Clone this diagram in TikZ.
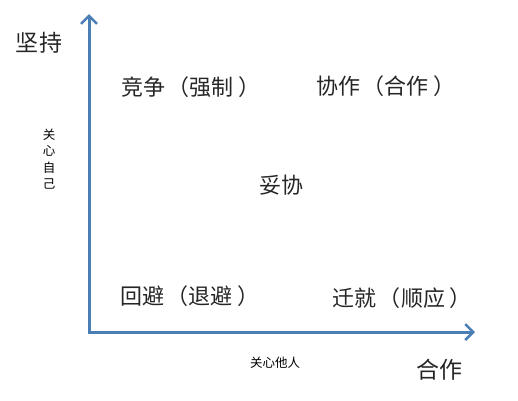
\documentclass[tikz,border=0pt]{standalone}
\usepackage{fontspec}
\newfontfamily\cjk{Noto Sans CJK SC}
\usetikzlibrary{arrows.meta}
\definecolor{axisblue}{HTML}{4A7EB5}
\tikzset{
  axisline/.style={draw=axisblue, line width=3pt, -{Straight Barb[length=8pt,width=16pt,line width=2.5pt]}},
  bigtxt/.style={font=\cjk\fontsize{22}{25}\selectfont, text=black!85, inner sep=0pt},
  axtxt/.style={font=\cjk\fontsize{23}{26}\selectfont, text=black!85, inner sep=0pt},
  smalltxt/.style={font=\cjk\fontsize{12.5}{15}\selectfont, text=black, inner sep=0pt},
}
\begin{document}
\begin{tikzpicture}[x=1pt,y=-1pt]
\useasboundingbox (0,0) rectangle (518,400);
\coordinate (o) at (89,332);
\coordinate (ytop) at (89,14);
\coordinate (xend) at (475,332);
\draw[axisline] (o) -- (ytop);
\draw[axisline] ([xshift=-1.5pt]o) -- (xend);
\node[axtxt] (jianchi) at (39,43) {坚持};
\node[axtxt] (hezuo) at (439,370) {合作};
\node[bigtxt] (jingzheng) at (191,87) {竞争\hspace{3pt}（强制\hspace{5pt}）};
\node[bigtxt] (xiezuo) at (386,86) {协作\hspace{3pt}（合作\hspace{5pt}）};
\node[bigtxt] (tuoxie) at (281,185) {妥协};
\node[bigtxt] (huibi) at (190,296) {回避\hspace{3pt}（退避\hspace{5pt}）};
\node[bigtxt] (qianjiu) at (402,298) {迁就\hspace{3pt}（顺应\hspace{5pt}）};
\node[smalltxt, align=center, font=\cjk\fontsize{12.5}{16.5}\selectfont] (guanxinziji) at (49,159) {关\\心\\自\\己};
\node[smalltxt] (guanxintaren) at (275,363) {关心他人};
\end{tikzpicture}
\end{document}
